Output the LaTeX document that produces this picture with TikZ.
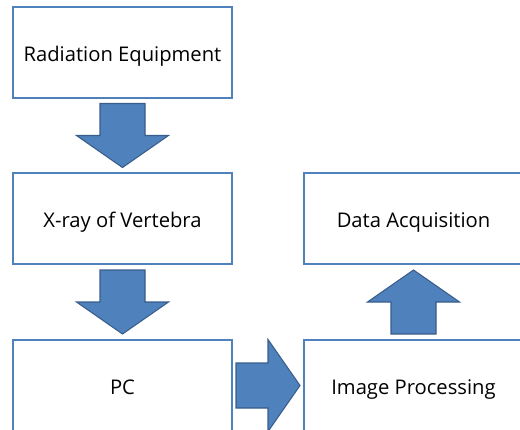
\documentclass[tikz,border=0pt]{standalone}
\usepackage{fontspec}
\setmainfont{Open Sans}
\usetikzlibrary{calc}
\definecolor{mblue}{RGB}{79,129,189}
\definecolor{dblue}{RGB}{56,93,138}
\tikzset{box/.style = {draw=mblue, line width=1.1pt, fill=white,
                       minimum width=4.38cm, minimum height=1.82cm,
                       text height=9.7pt, text depth=0pt,
                       font=\fontsize{11.5}{13}\selectfont}}
\tikzset{fatarrow/.pic = {\draw [fill=mblue, draw=dblue, line width=0.6pt]
                            (-32, -22.5) -- (0, -22.5) -- (0, -46) -- (32, 0)
                            -- (0, 46) -- (0, 22.5) -- (-32, 22.5) -- cycle;}}

\begin{document}
\begin{tikzpicture}[x=0.02cm, y=-0.02cm]
    \useasboundingbox (0, 0) rectangle (520, 429);
    \clip (0, 0) rectangle (520, 429);

    \node [box] (rad) at (122.5, 52.5) {Radiation Equipment};
    \node [box] (xray) at (122.5, 218.5) {X-ray of Vertebra};
    \node [box] (pc) at (122.5, 385.5) {PC};
    \node [box] (daq) at (413.5, 218.5) {Data Acquisition};
    \node [box] (imp) at (413.5, 385.5) {Image Processing};

    \pic [rotate=-90] at ($(rad.south)!0.5!(xray.north)$) {fatarrow};
    \pic [rotate=-90] at ($(xray.south)!0.5!(pc.north)$) {fatarrow};
    \pic at ($(pc.east)!0.5!(imp.west)$) {fatarrow};
    \pic [rotate=90] at ($(imp.north)!0.5!(daq.south)$) {fatarrow};
  \end{tikzpicture}
\end{document}
